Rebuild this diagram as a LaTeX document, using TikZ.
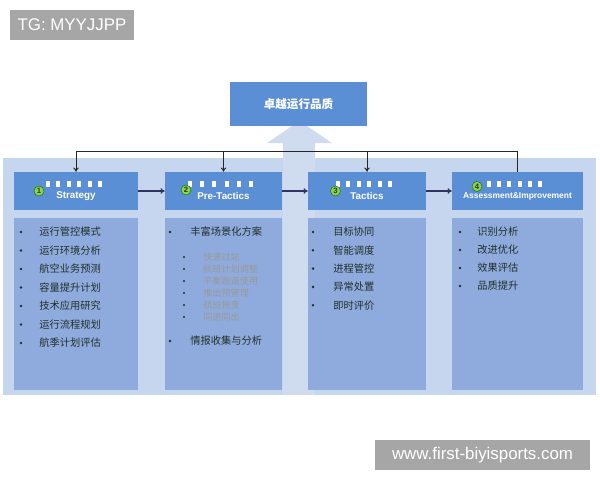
\documentclass[tikz,border=0pt]{standalone}
\usepackage{fontspec}
\setmainfont{Liberation Sans}
\newfontfamily\cjk{Noto Sans CJK SC}
\usetikzlibrary{arrows.meta,positioning}
\definecolor{panelblue}{HTML}{C6D6EE}
\definecolor{headblue}{HTML}{5B8FD5}
\definecolor{bodyblue}{HTML}{8FABDE}
\definecolor{taggray}{HTML}{A6A6A6}
\definecolor{dotgreen}{HTML}{8CD24C}
\definecolor{itemtext}{HTML}{22302A}
\tikzset{
  headbox/.style={rectangle, fill=headblue, minimum width=#1, minimum height=0.95cm, inner sep=0pt},
  bodybox/.style={rectangle, fill=bodyblue, minimum width=#1, minimum height=4.3cm, inner sep=0pt},
  headtitle/.style={font=\fontsize{7}{8}\selectfont\bfseries, text=white, inner sep=0pt},
  numdot/.style={circle, fill=dotgreen, draw=green!45!black, line width=0.3pt,
                 minimum size=0.25cm, inner sep=0pt, font=\fontsize{5.5}{6}\selectfont\bfseries, text=black!80},
  item/.style={anchor=west, font=\cjk\fontsize{7.3}{8}\selectfont, text=itemtext, inner sep=0pt},
  subitem/.style={anchor=west, font=\cjk\fontsize{6.5}{7}\selectfont, text=black!40, inner sep=0pt},
  tagbox/.style={rectangle, fill=taggray, text=white, font=\fontsize{12}{14}\selectfont,
                 minimum height=0.75cm, inner sep=0pt},
  arr/.style={-{To[length=3pt,width=4pt]}, line width=0.7pt, draw=black!85},
  flow/.style={-{To[length=3pt,width=4pt]}, line width=0.8pt, draw=black!70!blue!60!gray},
}
\begin{document}
\begin{tikzpicture}[x=0.025cm, y=-0.025cm]
  \useasboundingbox (0,0) rectangle (600,480);
  % panel and big arrow
  \fill[panelblue] (3,158) rectangle (596,395);
  \fill[panelblue!85!white] (283,395) -- (283,143) -- (267,143) -- (299.5,121) -- (332,143) -- (315,143) -- (315,395) -- cycle;
  \node[rectangle, fill=headblue, minimum width=3.425cm, minimum height=1.1cm,
        font=\cjk\fontsize{8.2}{9}\selectfont\bfseries, text=white] (goal) at (298.5,104) {卓越运行品质};
  % header boxes
  \node[headbox=3.1cm]   (s1) at (76,191) {};
  \node[headbox=2.925cm] (s2) at (223.5,191) {};
  \node[headbox=2.95cm]  (s3) at (367,191) {};
  \node[headbox=3.275cm] (s4) at (517.5,191) {};
  % body boxes
  \node[bodybox=3.1cm,   below=0.175cm of s1] (b1) {};
  \node[bodybox=2.925cm, below=0.175cm of s2] (b2) {};
  \node[bodybox=2.95cm,  below=0.175cm of s3] (b3) {};
  \node[bodybox=3.275cm, below=0.175cm of s4] (b4) {};
  % placeholder glyphs
  \foreach \x/\st in {46/10.4, 188/12.2, 336/10.4, 487/10.2}
    \foreach \k in {0,...,5}
      \fill[white] ({\x+\k*\st},181) rectangle ++(4,5.5);
  % titles
  \node[headtitle] (t1) at (76,196) {Strategy};
  \node[headtitle] (t2) at (223.5,196) {Pre-Tactics};
  \node[headtitle] (t3) at (367,196) {Tactics};
  \node[headtitle, font=\fontsize{6}{7}\selectfont\bfseries] (t4) at (517.5,196.5) {Assessment\&Improvement};
  \node[numdot] (n1) at (39,191) {1};
  \node[numdot] (n2) at (186,190) {2};
  \node[numdot] (n3) at (335.5,191) {3};
  \node[numdot] (n4) at (477,186.5) {4};
  % flow arrows
  \draw[flow] (s1) -- (s2);
  \draw[flow] (s2) -- (s3);
  \draw[flow] (s3) -- (s4);
  % feedback line
  \coordinate (bus) at (0,151);
  \draw[arr] (s4.north) -- (s4.north |- bus) -| (s1.north);
  \draw[arr] (s2.north |- bus) -- (s2.north);
  \draw[arr] (s3.north |- bus) -- (s3.north);
  % strategy list
  \foreach \t [count=\i] in {运行管控模式,运行环境分析,航空业务预测,容量提升计划,技术应用研究,运行流程规划,航季计划评估} {
    \node[item] (p\i) at (39,{232+18.5*(\i-1)}) {\t};
    \fill[itemtext] (21,{232+18.5*(\i-1)}) circle (1.4);
  }
  % pre-tactics list
  \node[item] (q1) at (190,232) {丰富场景化方案};
  \fill[itemtext] (170,232) circle (1.4);
  \foreach \t [count=\i] in {快速过站,航班计划调整,平衡跑道使用,推出预管理,航班拖曳,同进同出} {
    \node[subitem] (r\i) at (203,{257+12*(\i-1)}) {\t};
    \fill[itemtext] (184,{257+12*(\i-1)}) circle (1.1);
  }
  \node[item] (q2) at (190,341) {情报收集与分析};
  \fill[itemtext] (170,341) circle (1.4);
  % tactics list
  \foreach \t [count=\i] in {目标协同,智能调度,进程管控,异常处置,即时评价} {
    \node[item] (u\i) at (333,{232+18.3*(\i-1)}) {\t};
    \fill[itemtext] (313,{232+18.3*(\i-1)}) circle (1.4);
  }
  % assessment list
  \foreach \t [count=\i] in {识别分析,改进优化,效果评估,品质提升} {
    \node[item] (v\i) at (477,{232+18*(\i-1)}) {\t};
    \fill[itemtext] (460,{232+18*(\i-1)}) circle (1.4);
  }
  % tags
  \node[tagbox, minimum width=3.1cm] (tag) at (72,25) {TG: MYYJJPP};
  \node[tagbox, minimum width=5.375cm] (site) at (482.5,455) {www.first-biyisports.com};
\end{tikzpicture}
\end{document}
